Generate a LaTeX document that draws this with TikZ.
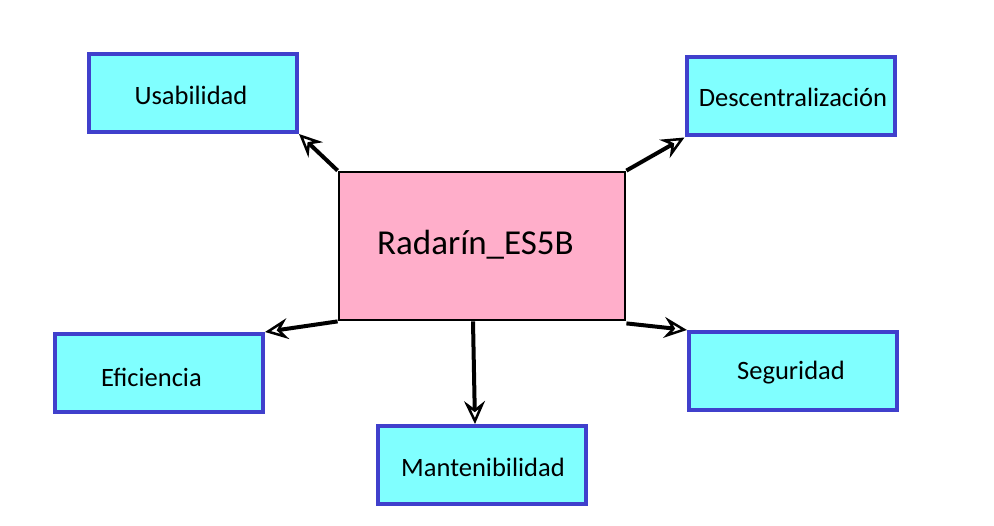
\documentclass[tikz,border=0pt]{standalone}
\usepackage{fontspec}
\setmainfont{Carlito}
\usetikzlibrary{arrows.meta}
\definecolor{boxfill}{HTML}{80FFFF}
\definecolor{boxline}{HTML}{4040CC}
\definecolor{centfill}{HTML}{FFAECA}
\tikzset{
  leaf/.style={draw=boxline, fill=boxfill, line width=4pt, minimum width=208pt, minimum height=78pt, inner sep=0pt},
  centre/.style={draw=black, fill=centfill, line width=2.8pt, minimum width=286pt, minimum height=148pt, inner sep=0pt},
  leaftext/.style={inner sep=0pt, font=\fontsize{26.5}{30}\selectfont},
  centtext/.style={inner sep=0pt, font=\fontsize{35}{40}\selectfont},
  conn/.style={line width=4pt, -{Stealth[open, length=23pt, width=21pt, inset=8pt, line width=2.5pt]}}
}
\begin{document}
\begin{tikzpicture}[x=1pt,y=-1pt]
\useasboundingbox (0,0) rectangle (994,526);
\node[centre] (c) at (482,246) {};
\node[centtext] (ct) at (475.5,245) {Radarín\_ES5B};
\node[leaf] (u) at (193,93) {};
\node[leaftext] (ut) at (191,95) {Usabilidad};
\node[leaf] (d) at (790.5,96.5) {};
\node[leaftext] (dt) at (793,97) {Descentralización};
\node[leaf] (e) at (159,373) {};
\node[leaftext] (et) at (151.5,377) {Eficiencia};
\node[leaf] (s) at (793,371) {};
\node[leaftext] (st) at (791,373) {Seguridad};
\node[leaf] (m) at (482,465) {};
\node[leaftext] (mt) at (483,467) {Mantenibilidad};
\draw[conn] (c.north west) -- (u.south east);
\draw[conn] (c.north east) -- (d.south west);
\draw[conn] (c.south west) -- (e.north east);
\draw[conn] ([xshift=-9pt]c.south) -- ([xshift=-7pt]m.north);
\draw[conn] ([yshift=-2pt]c.south east) -- (s.north west);
\end{tikzpicture}
\end{document}
